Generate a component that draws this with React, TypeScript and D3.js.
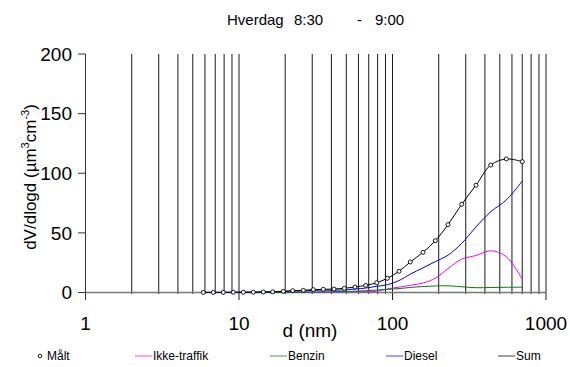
import React from "react";
import * as d3 from "d3";

const diam = [5.85, 6.8, 7.9, 9.18, 10.67, 12.4, 14.4, 16.58, 19.44, 22.38, 26.24, 30.48, 35.42, 41.58, 48.53, 56.97, 66.9, 78.9, 92.5, 110.3, 130.6, 158.0, 190.0, 229.9, 282.4, 349.9, 436.3, 551.2, 700.9];
const maalt = [0.1, 0.1, 0.1, 0.2, 0.2, 0.3, 0.4, 0.6, 1.0, 1.5, 1.8, 2.4, 2.7, 2.9, 3.5, 4.6, 6.0, 8.2, 11.9, 17.8, 25.6, 33.7, 43.4, 56.9, 74.0, 90.0, 106.9, 112.0, 109.7];
const ikkeTraffik = [0, 0, 0, 0, 0, 0, 0, 0.1, 0.1, 0.2, 0.2, 0.3, 0.3, 0.4, 0.5, 0.6, 0.8, 1.0, 3.0, 4.5, 6.0, 8.0, 12.0, 20.0, 28.0, 31.0, 35.0, 30.0, 11.0];
const benzin = [0, 0, 0, 0, 0, 0, 0, 0, 0, 0.1, 0.2, 0.3, 0.4, 0.6, 0.8, 1.1, 1.5, 2.0, 2.6, 3.3, 4.2, 5.0, 5.5, 5.6, 4.8, 4.0, 4.2, 4.4, 4.4];
const diesel = [0.1, 0.1, 0.1, 0.2, 0.2, 0.3, 0.4, 0.5, 0.9, 1.2, 1.4, 1.8, 2.0, 1.9, 2.2, 2.9, 3.7, 5.2, 6.5, 10.0, 15.4, 20.7, 25.9, 31.3, 41.2, 55.0, 67.7, 77.6, 93.5];
const sum = [0.1, 0.1, 0.1, 0.2, 0.2, 0.3, 0.4, 0.6, 1.0, 1.5, 1.8, 2.4, 2.7, 2.9, 3.5, 4.6, 6.0, 8.2, 11.9, 17.8, 25.6, 33.7, 43.4, 56.9, 74.0, 90.0, 106.9, 112.0, 109.7];

const yTicks = [0, 50, 100, 150, 200];
const xMajor = [1, 10, 100, 1000];
const xTickLabels = ["1", "10", "100", "1000"];
const gridVals = [2, 3, 4, 5, 6, 7, 8, 9, 10, 20, 30, 40, 50, 60, 70, 80, 90, 100, 200, 300, 400, 500, 600, 700, 800, 900, 1000];

const FONT = "Arial, 'Liberation Sans', sans-serif";

export default function App() {
  const W = 570, H = 367;
  const x = d3.scaleLog().domain([1, 1000]).range([85.5, 546]);
  const y = d3.scaleLinear().domain([0, 200]).range([292.5, 54]);

  const mk = (vals: number[]) =>
    d3.line<number>()
      .x((_, i) => x(diam[i]))
      .y((v) => y(v))
      .curve(d3.curveCatmullRom.alpha(0.5))(vals) || "";

  const series = [
    { name: "Ikke-traffik", vals: ikkeTraffik, color: "#ff00ff" },
    { name: "Benzin", vals: benzin, color: "#008000" },
    { name: "Diesel", vals: diesel, color: "#0000ff" },
    { name: "Sum", vals: sum, color: "#000000" },
  ];

  const legend = [
    { name: "Ikke-traffik", x: 135, color: "#ff80ff" },
    { name: "Benzin", x: 270, color: "#80c080" },
    { name: "Diesel", x: 386, color: "#8080ff" },
    { name: "Sum", x: 498, color: "#808080" },
  ];

  return (
    <svg width={W} height={H} style={{ position: "absolute", left: 0, top: 0 }} fontFamily={FONT}>
      <rect width={W} height={H} fill="#fff" />
      {/* title */}
      <text x={227} y={25} fontSize={15}>Hverdag</text>
      <text x={294} y={25} fontSize={15}>8:30</text>
      <text x={357} y={25} fontSize={15}>-</text>
      <text x={375} y={25} fontSize={15}>9:00</text>

      {/* grid lines */}
      {gridVals.map((g) => {
        const major = xMajor.includes(g);
        return (
          <line key={g} x1={x(g)} x2={x(g)} y1={y(200)} y2={major ? 300 : 294}
            stroke="#1a1a1a" strokeWidth={1} />
        );
      })}
      {/* y axis */}
      <line x1={85.5} x2={85.5} y1={y(200)} y2={300} stroke="#333" strokeWidth={1} />
      {yTicks.map((t) => (
        <g key={t}>
          <line x1={78} x2={85.5} y1={y(t)} y2={y(t)} stroke="#333" />
          <text x={72} y={y(t)} dy="0.36em" textAnchor="end" fontSize={19}>{t}</text>
        </g>
      ))}
      {/* x axis */}
      <line x1={85.5} x2={546} y1={292.5} y2={292.5} stroke="#777" strokeWidth={1.5} />
      {xMajor.map((t, i) => (
        <text key={t} x={x(t)} y={330} textAnchor="middle" fontSize={19}>{xTickLabels[i]}</text>
      ))}
      <text x={310} y={337} textAnchor="middle" fontSize={19}>d (nm)</text>
      <text transform={`translate(36,177) rotate(-90)`} textAnchor="middle" fontSize={17}>
        dV/dlogd (µm<tspan dy={-7} fontSize={11}>3</tspan><tspan dy={7}>cm</tspan><tspan dy={-7} fontSize={11}>-3</tspan><tspan dy={7}>)</tspan>
      </text>

      {/* series */}
      {series.map((s) => (
        <path key={s.name} d={mk(s.vals)} fill="none" stroke={s.color} strokeWidth={1} />
      ))}
      {maalt.map((v, i) => (
        <circle key={i} cx={x(diam[i])} cy={y(v)} r={2} fill="#fff" stroke="#000" strokeWidth={0.9} />
      ))}

      {/* legend */}
      <circle cx={40} cy={356} r={1.8} fill="#fff" stroke="#000" strokeWidth={0.9} />
      <text x={47} y={360} fontSize={12}>Målt</text>
      {legend.map((l) => (
        <g key={l.name}>
          <line x1={l.x} x2={l.x + 17} y1={356} y2={356} stroke={l.color} strokeWidth={1.5} />
          <text x={l.x + 18} y={360} fontSize={12}>{l.name}</text>
        </g>
      ))}
    </svg>
  );
}
